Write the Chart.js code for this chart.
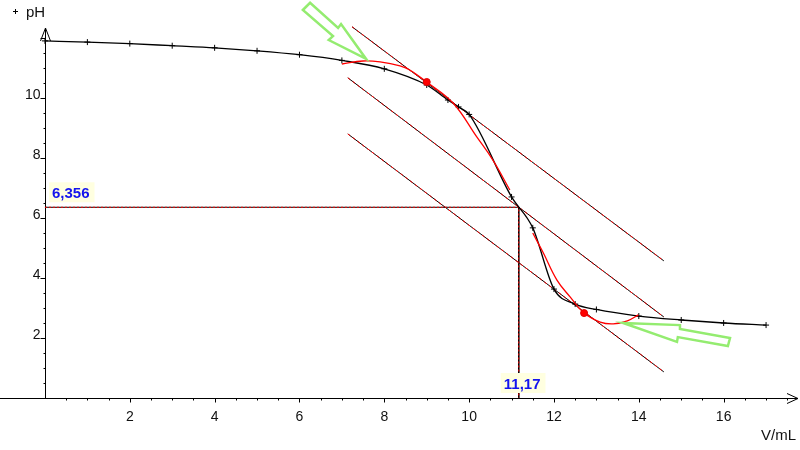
<!DOCTYPE html>
<html><head><meta charset="utf-8">
<script src="https://cdn.jsdelivr.net/npm/chart.js@4.4.0/dist/chart.umd.min.js"></script>
<style>html,body{margin:0;padding:0;background:#fff;}#wrap{width:800px;height:450px;}</style>
</head><body><div id="wrap"><canvas id="c" width="800" height="450"></canvas></div>
<script>
// ---- data ----
const volume = [0,1,2,3,4,5,6,7,8,9,9.5,9.75,10,11,11.5,12,12.5,13,14,15,16,17];
const pH     = [11.9,11.86,11.81,11.74,11.67,11.57,11.44,11.25,10.97,10.43,9.93,9.7,9.45,6.7,5.67,3.63,3.13,2.95,2.73,2.6,2.5,2.43];

const upperArcV  = [7.0,7.5,7.9,8.37,8.6,9.0,9.62,10.18,10.56,10.96];
const upperArcPH = [11.13,11.23,11.2,11.07,10.93,10.53,9.83,8.7,7.93,6.93];
const lowerArcV  = [11.5,11.75,12.07,12.38,12.71,13.09,13.4,13.73,13.99];
const lowerArcPH = [5.5,4.83,3.93,3.37,2.83,2.53,2.47,2.57,2.77];

const touchV  = [9.0, 12.71];
const touchPH = [10.53, 2.83];

const upperTangentV = [7.24,14.59], upperTangentPH = [12.37,4.57];
const midTangentV   = [7.14,14.59], midTangentPH   = [10.67,2.70];
const lowTangentV   = [7.14,14.59], lowTangentPH   = [8.80,0.87];

const eqV = 11.17, eqPH = 6.356;

const xTickLabels = ['2','4','6','8','10','12','14','16'];
const yTickLabels = ['2','4','6','8','10'];

const topArrowV  = [6.08,6.25,6.91,6.98,7.57,6.69,6.79];
const topArrowPH = [12.93,13.17,12.33,12.46,11.30,11.93,12.06];
const botArrowV  = [13.63,14.97,14.97,16.15,16.10,14.92,14.90];
const botArrowPH = [2.50,2.43,2.30,2.00,1.73,2.03,1.87];

const X_MIN = -1.06, X_MAX = 17.8, Y_MIN = 0, Y_MAX = 12.33;

// ---- helpers ----
const pts = (xs, ys) => xs.map((v,i)=>({x:v, y:ys[i]}));
const fmt = v => String(v).replace('.', ',');

function dashedPair(xs, ys, dash, order){
  return [
    {data: pts(xs,ys), showLine:true, borderColor:'#000', borderWidth:1, pointRadius:0, order:order+1, clip:false},
    {data: pts(xs,ys), showLine:true, borderColor:'#ff0000', borderWidth:1, borderDash:dash, pointRadius:0, order:order, clip:false}
  ];
}

const datasets = [
  ...dashedPair(upperTangentV, upperTangentPH, [3,3], 20),
  ...dashedPair(midTangentV, midTangentPH, [3,3], 20),
  ...dashedPair(lowTangentV, lowTangentPH, [3,3], 20),
  ...dashedPair([0, eqV, eqV], [eqPH, eqPH, 0], [2,2], 18),
  {data: pts(volume,pH), showLine:true, borderColor:'#000', borderWidth:1.3, cubicInterpolationMode:'monotone',
   pointStyle:'cross', pointRadius:3, pointBorderColor:'#000', pointBorderWidth:1, order:5},
  {data: pts(upperArcV,upperArcPH), showLine:true, borderColor:'#ff0000', borderWidth:1.3, tension:0.4, pointRadius:0, order:4},
  {data: pts(lowerArcV,lowerArcPH), showLine:true, borderColor:'#ff0000', borderWidth:1.3, tension:0.4, pointRadius:0, order:4},
  {data: pts(touchV,touchPH), showLine:false, pointRadius:3.5, pointBackgroundColor:'#ff0000', pointBorderColor:'#e00000', order:1}
];

const axesPlugin = {
  id:'axesPlugin',
  beforeDatasetsDraw(chart){
    const {ctx, scales:{x,y}, chartArea} = chart;
    const x0 = Math.round(x.getPixelForValue(0)) + 0.5;
    const y0 = Math.round(y.getPixelForValue(0)) + 0.5;
    const yTop = y.getPixelForValue(Y_MAX);
    const xEnd = x.getPixelForValue(X_MAX) - 2;
    ctx.save();
    ctx.strokeStyle = '#000'; ctx.lineWidth = 1;
    ctx.beginPath();
    ctx.moveTo(chartArea.left, y0); ctx.lineTo(xEnd, y0);
    ctx.moveTo(x0, y0); ctx.lineTo(x0, yTop);
    // arrows
    ctx.moveTo(xEnd-11, y0-5); ctx.lineTo(xEnd, y0); ctx.lineTo(xEnd-11, y0+5);
    ctx.moveTo(x0-5, yTop+13); ctx.lineTo(x0, yTop); ctx.lineTo(x0+5, yTop+13);
    // x ticks
    for (let v = 0.5; v < 17.6; v += 0.5){
      const px = Math.round(x.getPixelForValue(v)) + 0.5;
      const len = (Math.abs(v % 2) < 1e-9) ? 4 : 2;
      ctx.moveTo(px, y0); ctx.lineTo(px, y0 + len);
    }
    // y ticks
    for (let v = 0.5; v < 12.1; v += 0.5){
      const py = Math.round(y.getPixelForValue(v)) + 0.5;
      const len = (Math.abs(v % 2) < 1e-9) ? 5 : 2;
      ctx.moveTo(x0, py); ctx.lineTo(x0 - len, py);
    }
    ctx.stroke();
    // tick labels
    ctx.fillStyle = '#111';
    ctx.font = '14px "Liberation Sans", Arial, sans-serif';
    ctx.textAlign = 'center'; ctx.textBaseline = 'alphabetic';
    xTickLabels.forEach(l => { ctx.fillText(l, x.getPixelForValue(parseFloat(l)), y0 + 22); });
    ctx.textAlign = 'right';
    yTickLabels.forEach(l => { ctx.fillText(l, x0 - 5, y.getPixelForValue(parseFloat(l)) + 1); });
    // axis titles
    ctx.textAlign = 'left';
    ctx.font = '15px "Liberation Sans", Arial, sans-serif';
    ctx.fillText('pH', 26, 17);
    ctx.textAlign = 'right';
    ctx.fillText('V/mL', 796, 440);
    // small legend cross
    ctx.beginPath();
    ctx.moveTo(13, 11.5); ctx.lineTo(18, 11.5);
    ctx.moveTo(15.5, 9); ctx.lineTo(15.5, 14);
    ctx.stroke();
    ctx.restore();
  },
  afterDatasetsDraw(chart){
    const {ctx, scales:{x,y}} = chart;
    ctx.save();
    const drawLabel = (text, left, bottom) => {
      ctx.font = 'bold 15px "Liberation Sans", Arial, sans-serif';
      const w = ctx.measureText(text).width + 8;
      ctx.fillStyle = '#ffffe0';
      ctx.fillRect(left, bottom - 20, w, 20);
      ctx.fillStyle = '#1414ee';
      ctx.textAlign = 'left'; ctx.textBaseline = 'alphabetic';
      ctx.fillText(text, left + 3, bottom - 4);
    };
    drawLabel(fmt(eqPH), x.getPixelForValue(0) + 4, y.getPixelForValue(eqPH) - 5);
    drawLabel(fmt(eqV), x.getPixelForValue(eqV) - 18, y.getPixelForValue(0) - 5);
    const poly = (vs, ps) => {
      ctx.beginPath();
      vs.forEach((v,i) => {
        const px = x.getPixelForValue(v), py = y.getPixelForValue(ps[i]);
        if (i === 0) ctx.moveTo(px, py); else ctx.lineTo(px, py);
      });
      ctx.closePath();
      ctx.stroke();
    };
    ctx.strokeStyle = '#94ec70'; ctx.lineWidth = 2.5; ctx.lineJoin = 'miter';
    poly(topArrowV, topArrowPH);
    poly(botArrowV, botArrowPH);
    ctx.restore();
  }
};

new Chart(document.getElementById('c'), {
  type: 'scatter',
  data: { datasets },
  options: {
    responsive:false, animation:false, devicePixelRatio:1, events:[],
    layout:{ autoPadding:false, padding:{left:0,right:0,top:28,bottom:52} },
    plugins:{ legend:{display:false}, tooltip:{enabled:false} },
    scales:{
      x:{ type:'linear', min:X_MIN, max:X_MAX, display:false },
      y:{ type:'linear', min:Y_MIN, max:Y_MAX, display:false }
    }
  },
  plugins:[axesPlugin]
});
</script>
</body></html>
